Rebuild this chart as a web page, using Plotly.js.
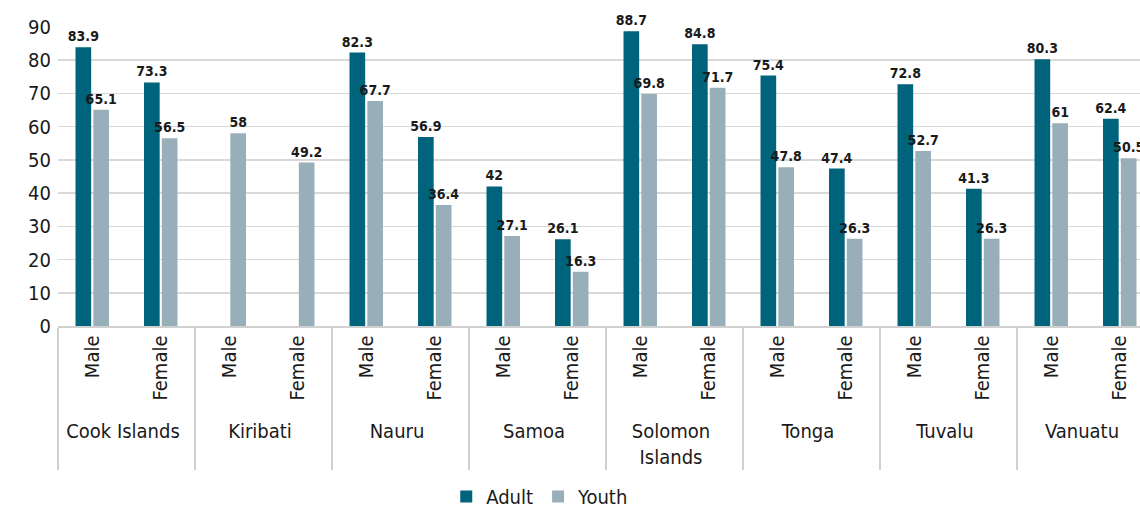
<!DOCTYPE html>
<html><head><meta charset="utf-8">
<script src="https://cdn.plot.ly/plotly-3.0.1.min.js"></script>
<style>html,body{margin:0;padding:0;overflow:hidden;background:#fff;}#chart{width:1160px;height:513px;}</style>
</head><body><div id="chart"></div>
<script>
const countries = ["Cook Islands","Cook Islands","Kiribati","Kiribati","Nauru","Nauru","Samoa","Samoa","Solomon<br>Islands","Solomon<br>Islands","Tonga","Tonga","Tuvalu","Tuvalu","Vanuatu","Vanuatu"];
const genders = ["Male","Female","Male","Female","Male","Female","Male","Female","Male","Female","Male","Female","Male","Female","Male","Female"];
const adult = [83.9,73.3,null,null,82.3,56.9,42,26.1,88.7,84.8,75.4,47.4,72.8,41.3,80.3,62.4];
const youth = [65.1,56.5,58,49.2,67.7,36.4,27.1,16.3,69.8,71.7,47.8,26.3,52.7,26.3,61,50.5];
const yTicks = [0,10,20,30,40,50,60,70,80,90];

const FAM = "DejaVu Sans Condensed, Liberation Sans Narrow, sans-serif";
const labelFont = {family:FAM, size:14, color:"#1a1a1a", weight:700};
function mk(name, vals, color){
  return {type:"bar", name:name, x:[countries, genders], y:vals, marker:{color:color},
    text:vals.map(v=>v==null?"":String(v)), textposition:"outside", cliponaxis:false,
    constraintext:"none", textangle:0,
    textfont:labelFont, hoverinfo:"skip"};
}
const data = [mk("Adult", adult, "#00637c"), mk("Youth", youth, "#98afba")];
const layout = {
  width:1160, height:513,
  margin:{l:58, r:6, t:27, b:187, autoexpand:false},
  paper_bgcolor:"#fff", plot_bgcolor:"#fff",
  font:{family:FAM, size:20, color:"#1a1a1a"},
  barmode:"group", bargap:0.48, bargroupgap:0.12,
  showlegend:true,
  legend:{orientation:"h", x:0.44, xanchor:"center", yref:"container", y:0.032, yanchor:"middle", font:{size:20}, itemwidth:20},
  xaxis:{type:"multicategory", tickangle:-90, showline:true, linecolor:"#d0d0d0", linewidth:1.5,
    showdividers:true, dividercolor:"#d0d0d0", dividerwidth:1.5, ticks:"", tickfont:{size:20}, automargin:false},
  yaxis:{range:[0,90], tickvals:yTicks, ticktext:yTicks.map(String), showgrid:true, gridcolor:"#d9d9d9", gridwidth:1.5,
    zeroline:false, tickfont:{size:20}, ticks:"", ticklabelstandoff:6, automargin:false}
};
Plotly.newPlot("chart", data, layout, {displayModeBar:false, staticPlot:true});
</script></body></html>
